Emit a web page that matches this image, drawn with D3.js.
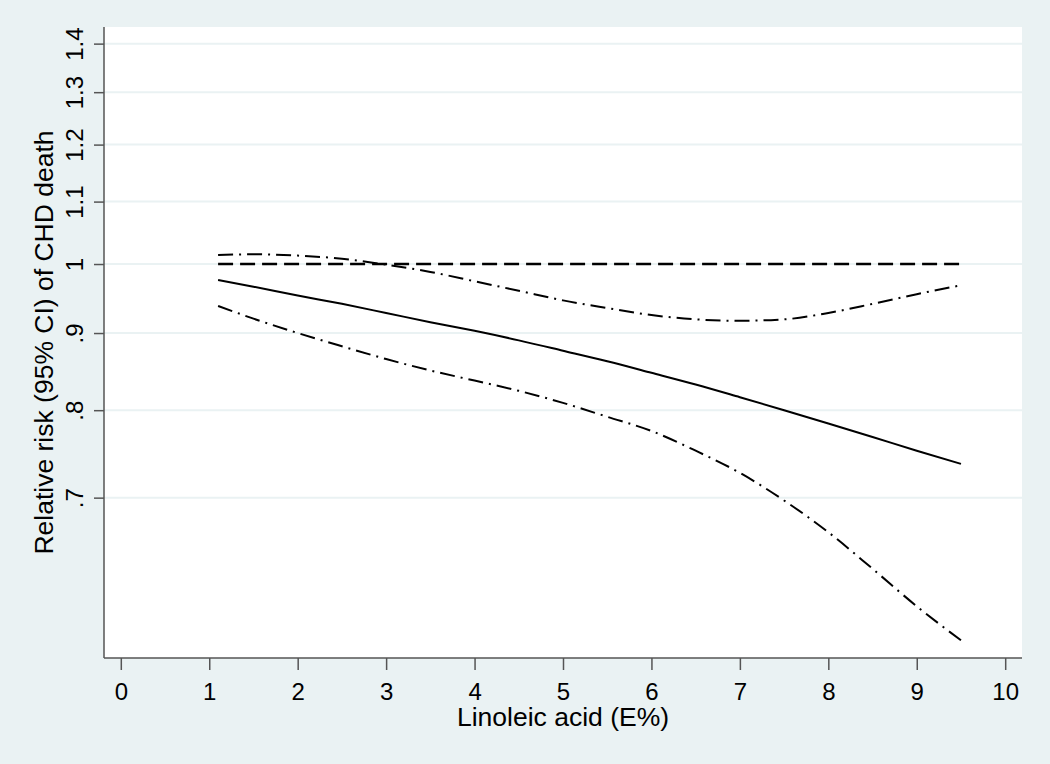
<!DOCTYPE html>
<html>
<head>
<meta charset="utf-8">
<script src="https://cdn.jsdelivr.net/npm/d3@7"></script>
<style>
  html, body { margin: 0; padding: 0; background: #EAF2F3; }
  svg { display: block; font-family: "Liberation Sans", Arial, sans-serif; }
</style>
</head>
<body>
<svg id="chart" width="1050" height="764"></svg>
<script>
// ---- Data ----
const linoleic = [1.1, 1.5, 2, 2.5, 3, 3.5, 4, 4.5, 5, 5.5, 6, 6.5, 7, 7.5, 8, 8.5, 9, 9.5];
const relativeRisk = [0.976, 0.966, 0.953, 0.941, 0.928, 0.915, 0.903, 0.890, 0.876, 0.862, 0.847, 0.832, 0.816, 0.800, 0.784, 0.768, 0.752, 0.737];
const upperCI = [1.014, 1.015, 1.013, 1.008, 0.999, 0.988, 0.974, 0.960, 0.946, 0.935, 0.925, 0.919, 0.917, 0.919, 0.928, 0.941, 0.955, 0.968];
const lowerCI = [0.938, 0.920, 0.900, 0.882, 0.865, 0.850, 0.837, 0.824, 0.809, 0.792, 0.775, 0.752, 0.727, 0.697, 0.664, 0.628, 0.593, 0.563];
const referenceX = [1.1, 9.5];
const referenceY = [1, 1];

const xTickValues = [0, 1, 2, 3, 4, 5, 6, 7, 8, 9, 10];
const xTickLabels = ["0", "1", "2", "3", "4", "5", "6", "7", "8", "9", "10"];
const yTickValues = [0.7, 0.8, 0.9, 1, 1.1, 1.2, 1.3, 1.4];
const yTickLabels = [".7", ".8", ".9", "1", "1.1", "1.2", "1.3", "1.4"];
const xTitle = "Linoleic acid (E%)";
const yTitle = "Relative risk (95% CI) of CHD death";

// ---- Layout ----
const svg = d3.select("#chart");
const plot = { left: 104, right: 1022, top: 27, bottom: 658 };

const x = d3.scaleLinear().domain([-0.19, 10.19]).range([plot.left, plot.right]);
const y = d3.scaleLog().domain([0.548, 1.436]).range([plot.bottom, plot.top]);

// background
svg.append("rect").attr("width", 1050).attr("height", 764).attr("fill", "#EAF2F3");
// plot region
svg.append("rect")
  .attr("x", plot.left).attr("y", plot.top)
  .attr("width", plot.right - plot.left).attr("height", plot.bottom - plot.top)
  .attr("fill", "#ffffff");

// gridlines
svg.append("g").selectAll("line").data(yTickValues).join("line")
  .attr("x1", plot.left).attr("x2", plot.right)
  .attr("y1", d => y(d)).attr("y2", d => y(d))
  .attr("stroke", "#EAF2F3").attr("stroke-width", 2);

// x axis
const xAxis = d3.axisBottom(x)
  .tickValues(xTickValues)
  .tickFormat((d, i) => xTickLabels[i])
  .tickSize(12).tickSizeOuter(0).tickPadding(4);
const gx = svg.append("g").attr("transform", `translate(0,${plot.bottom})`).call(xAxis);
gx.select(".domain").attr("stroke", "#555").attr("stroke-width", 1.5)
  .attr("d", `M${plot.left},0H${plot.right}`);
gx.selectAll(".tick line").attr("stroke", "#555").attr("stroke-width", 1.5);
gx.selectAll(".tick text")
  .attr("fill", "#000").attr("font-size", 24)
  .attr("y", 42).attr("dy", 0);

// y axis
const yAxis = d3.axisLeft(y)
  .tickValues(yTickValues)
  .tickFormat((d, i) => yTickLabels[i])
  .tickSize(10).tickSizeOuter(0);
const gy = svg.append("g").attr("transform", `translate(${plot.left},0)`).call(yAxis);
gy.select(".domain").attr("stroke", "#555").attr("stroke-width", 1.5)
  .attr("d", `M0,${plot.top}V${plot.bottom}`);
gy.selectAll(".tick line").attr("stroke", "#555").attr("stroke-width", 1.5);
gy.selectAll(".tick text")
  .attr("fill", "#000").attr("font-size", 24)
  .attr("text-anchor", "middle")
  .attr("transform", "rotate(-90)")
  .attr("x", 0).attr("y", -21).attr("dy", 0);

gx.attr("font-family", null); gy.attr("font-family", null);

// axis titles
svg.append("text")
  .attr("x", (plot.left + plot.right) / 2).attr("y", 726)
  .attr("text-anchor", "middle").attr("font-size", 26.5).attr("fill", "#000")
  .text(xTitle);
svg.append("text")
  .attr("transform", `translate(53,${(plot.top + plot.bottom) / 2}) rotate(-90)`)
  .attr("text-anchor", "middle").attr("font-size", 26.5).attr("fill", "#000")
  .text(yTitle);

// lines
const line = d3.line().x(d => x(d[0])).y(d => y(d[1])).curve(d3.curveMonotoneX);
const g = svg.append("g").attr("fill", "none").attr("stroke", "#000");

g.append("path").datum(d3.zip(referenceX, referenceY))
  .attr("d", line).attr("stroke-width", 2.6).attr("stroke-dasharray", "15,7");
g.append("path").datum(d3.zip(linoleic, upperCI))
  .attr("d", line).attr("stroke-width", 2).attr("stroke-dasharray", "15,6,2,6");
g.append("path").datum(d3.zip(linoleic, lowerCI))
  .attr("d", line).attr("stroke-width", 2).attr("stroke-dasharray", "15,6,2,6");
g.append("path").datum(d3.zip(linoleic, relativeRisk))
  .attr("d", line).attr("stroke-width", 2);
</script>
</body>
</html>
